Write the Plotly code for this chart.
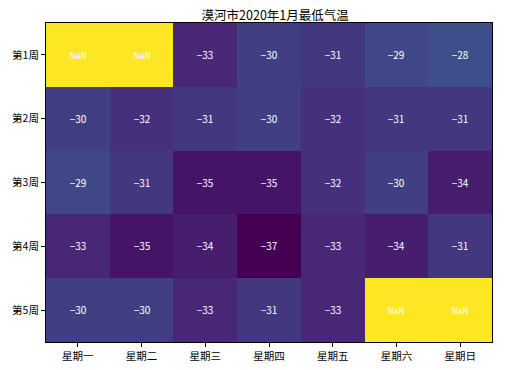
import plotly.graph_objects as go

days = ["星期一", "星期二", "星期三", "星期四", "星期五", "星期六", "星期日"]
weeks = ["第1周", "第2周", "第3周", "第4周", "第5周"]
w1 = [None, None, -33, -30, -31, -29, -28]
w2 = [-30, -32, -31, -30, -32, -31, -31]
w3 = [-29, -31, -35, -35, -32, -30, -34]
w4 = [-33, -35, -34, -37, -33, -34, -31]
w5 = [-30, -30, -33, -31, -33, None, None]
rows = [w1, w2, w3, w4, w5]

zc = [[0 if v is None else v for v in r] for r in rows]
txt = [["<span style='font-size:8.5px'>NaN</span>" if v is None else str(v).replace("-", "\u2212") for v in r] for r in rows]

fig = go.Figure(go.Heatmap(
    z=zc, x=days, y=weeks, text=txt, texttemplate="%{text}",
    textfont=dict(color="white", size=10, family="Noto Sans CJK SC"),
    colorscale="Viridis", zmin=-37, zmax=0, showscale=False, xgap=0, ygap=0,
    hoverinfo="skip"))

fig.update_layout(
    width=506, height=362,
    margin=dict(l=38, r=22, t=15, b=28),
    paper_bgcolor="white", plot_bgcolor="white",
    title=dict(text="漠河市2020年1月最低气温", x=0.528, xanchor="center",
               yref="container", y=1.0, yanchor="top", pad=dict(t=3),
               font=dict(size=12.5, color="black", family="Noto Sans CJK SC")),
    font=dict(family="Noto Sans CJK SC", size=10.5, color="black"),
)
fig.update_xaxes(showline=True, linecolor="black", mirror=True, ticks="outside", ticklen=4,
                 tickcolor="black", showgrid=False, zeroline=False, automargin=False)
fig.update_yaxes(autorange="reversed", showline=True, linecolor="black", mirror=True,
                 ticks="outside", ticklen=4, tickcolor="black", showgrid=False, zeroline=False,
                 automargin=False)
fig.write_html("out.html")
